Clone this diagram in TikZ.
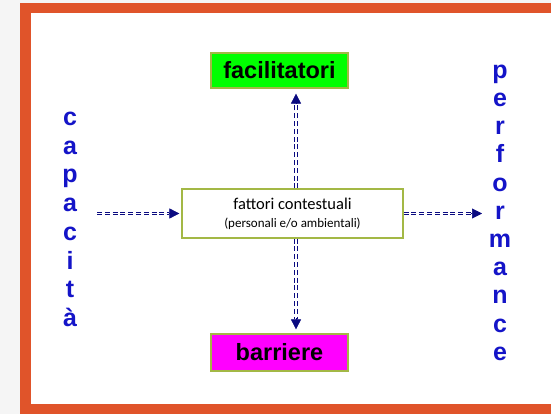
\documentclass[tikz,border=0pt]{standalone}
\usepackage{fontspec}
\usetikzlibrary{arrows.meta}
\newfontfamily\arialf{Liberation Sans}
\newfontfamily\calibf{Carlito}
\definecolor{frameorange}{HTML}{E0542A}
\definecolor{bgrey}{HTML}{F5F5F5}
\definecolor{navyarr}{HTML}{0A0A80}
\definecolor{letterblue}{HTML}{1414C8}
\definecolor{olivebd}{HTML}{A3B845}
\definecolor{facgreen}{HTML}{00FF00}
\definecolor{barmag}{HTML}{FF00FF}
\tikzset{
  labelbox/.style={draw=olivebd, line width=1.2pt, minimum width=137pt, inner sep=0pt,
    font=\arialf\bfseries\fontsize{23.5}{26}\selectfont, text=black},
  ctxbox/.style={draw=olivebd, line width=1.2pt, fill=white, minimum width=221pt, minimum height=49pt, inner sep=0pt, align=center},
  vletter/.style={anchor=base, inner sep=0pt, font=\arialf\bfseries\fontsize{25}{28}\selectfont, text=letterblue},
  dl/.style={draw=navyarr, line width=1.1pt, double=white, double distance=1.2pt, dash pattern=on 5pt off 2.8pt},
  tipl/.style={draw=navyarr, fill=navyarr, line width=0.6pt, -{Triangle[length=10pt,width=10pt]}}
}
\begin{document}
\begin{tikzpicture}[x=1pt,y=-1pt]
\useasboundingbox (0,0) rectangle (551,414);
\fill[bgrey] (0,0) rectangle (551,414);
\fill[frameorange] (20,3) rectangle (551,414);
\fill[white] (31,13) rectangle (551,404);

\node[labelbox, fill=facgreen, minimum height=35pt] (fac) at (279.5,70.5) {facilitatori};
\node[labelbox, fill=barmag, minimum height=37pt] (bar) at (279.5,352.5) {barriere};
\node[ctxbox] (ctx) at (292.5,213.5) {\calibf\fontsize{16.5}{19}\selectfont fattori contestuali\\[6pt]\calibf\fontsize{13}{15}\selectfont (personali e/o ambientali)};

\foreach \l [count=\i from 0] in {c,a,p,a,c,i,t,à}
  \node[vletter] (cap\i) at (70,125.5+28.7*\i) {\l};
\foreach \l [count=\i from 0] in {p,e,r,f,o,r,m,a,n,c,e}
  \node[vletter] (perf\i) at (500,78.2+28.2*\i) {\l};

\coordinate (capend) at (97,213.5);
\coordinate (perfend) at (482,213.5);

% left arrow
\draw[dl] (capend) -- ([xshift=-12pt]ctx.west);
\draw[tipl] ([xshift=-12pt]ctx.west) -- ([xshift=-2pt]ctx.west);
% right arrow
\draw[dl] (ctx.east) -- ([xshift=-10pt]perfend);
\draw[tipl] ([xshift=-11pt]perfend) -- (perfend);
% up arrow
\draw[dl] ([xshift=3.5pt]ctx.north) -- ([xshift=16.5pt,yshift=-14pt]fac.south);
\draw[tipl] ([xshift=16.5pt,yshift=-15pt]fac.south) -- ([xshift=16.5pt,yshift=-5pt]fac.south);
% down arrow
\draw[dl] ([xshift=3.5pt]ctx.south) -- ([xshift=16.5pt,yshift=14pt]bar.north);
\draw[tipl] ([xshift=16.5pt,yshift=15pt]bar.north) -- ([xshift=16.5pt,yshift=4pt]bar.north);
\end{tikzpicture}
\end{document}
